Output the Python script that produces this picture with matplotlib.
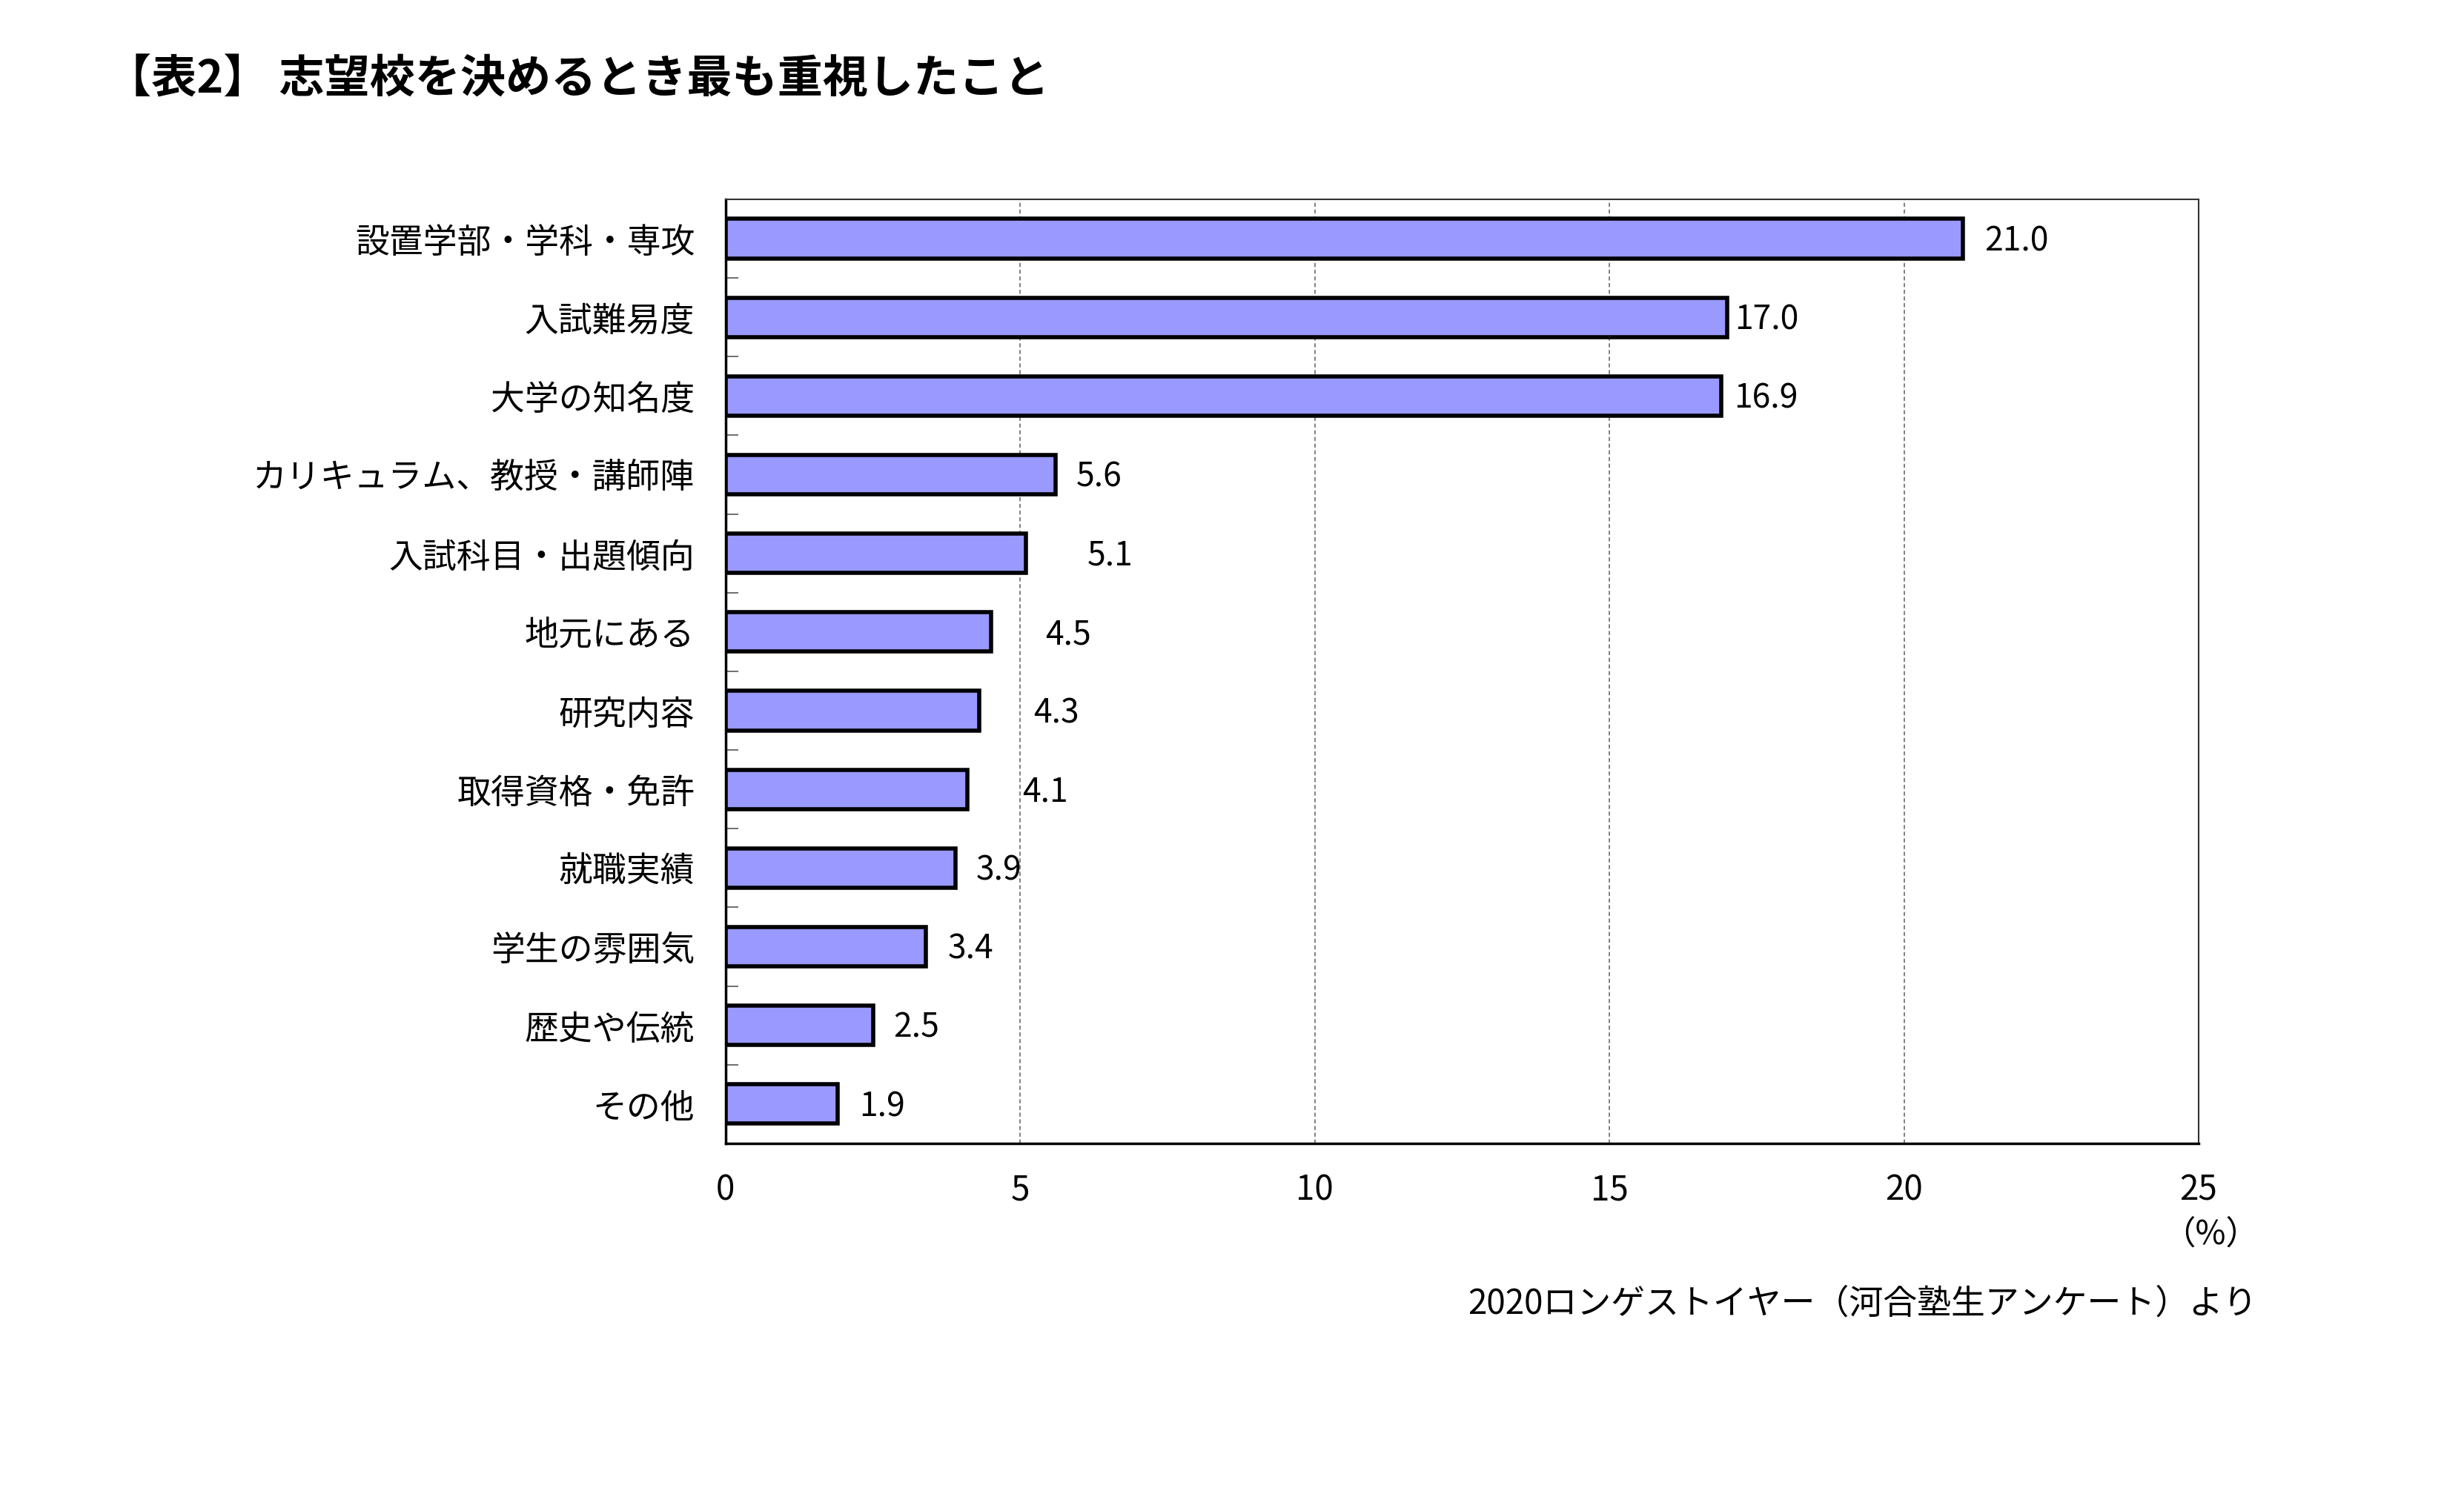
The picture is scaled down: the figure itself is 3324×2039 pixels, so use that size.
import matplotlib
matplotlib.use("Agg")
import matplotlib.pyplot as plt
from matplotlib.ticker import FixedLocator

plt.rcParams['font.family'] = ['Noto Sans CJK JP', 'DejaVu Sans']

# data (percent)
categories = ['設置学部・学科・専攻', '入試難易度', '大学の知名度', 'カリキュラム、教授・講師陣',
              '入試科目・出題傾向', '地元にある', '研究内容', '取得資格・免許',
              '就職実績', '学生の雰囲気', '歴史や伝統', 'その他']
values = [21.0, 17.0, 16.9, 5.6, 5.1, 4.5, 4.3, 4.1, 3.9, 3.4, 2.5, 1.9]
x_ticks = [0, 5, 10, 15, 20, 25]

title = '【表2】 志望校を決めるとき最も重視したこと'
unit_label = '（%）'
source = '2020ロンゲストイヤー（河合塾生アンケート）より'

# hand-placed value label offsets (as in the original sheet)
label_offsets = [0.37, 0.13, 0.21, 0.35, 1.04, 0.93, 0.93, 0.93, 0.35, 0.37, 0.35, 0.37]

fig = plt.figure(figsize=(33.24, 20.39), dpi=100)
ax = fig.add_axes([0.2945, 0.2433, 0.5978, 0.6248])

pos = list(range(len(categories)))
ax.barh(pos, values, height=0.5, color='#9999FF', edgecolor='black', linewidth=4, zorder=3)

for i, (v, off) in enumerate(zip(values, label_offsets)):
    ax.text(v + off, i + 0.03, f'{v:.1f}', va='center', ha='left', fontsize=32, zorder=4)

ax.set_xlim(0, 25)
ax.set_ylim(len(categories) - 0.5, -0.5)
ax.set_xticks(x_ticks)
ax.set_xticklabels([str(t) for t in x_ticks], fontsize=33)
ax.set_yticks(pos)
ax.set_yticklabels(categories, fontsize=33)
ax.yaxis.set_minor_locator(FixedLocator([p + 0.5 for p in pos[:-1]]))

ax.tick_params(axis='x', length=0, pad=28)
ax.tick_params(axis='y', which='major', length=0, pad=30)
ax.tick_params(axis='y', which='minor', direction='in', length=12, width=1.2, color='#555555')

ax.grid(axis='x', color='#777777', linestyle=(0, (3, 2)), linewidth=1.3, zorder=0)

for side in ['top', 'right']:
    ax.spines[side].set_linewidth(1.5)
    ax.spines[side].set_color('#333333')
for side in ['left', 'bottom']:
    ax.spines[side].set_linewidth(2.5)
    ax.spines[side].set_color('black')

fig.text(0.043, 0.947, title, fontsize=44, fontweight='bold', va='center', ha='left')
fig.text(0.897, 0.183, unit_label, fontsize=32, va='center', ha='center')
fig.text(0.916, 0.137, source, fontsize=33, va='center', ha='right')

fig.savefig('out.png', dpi=100)
